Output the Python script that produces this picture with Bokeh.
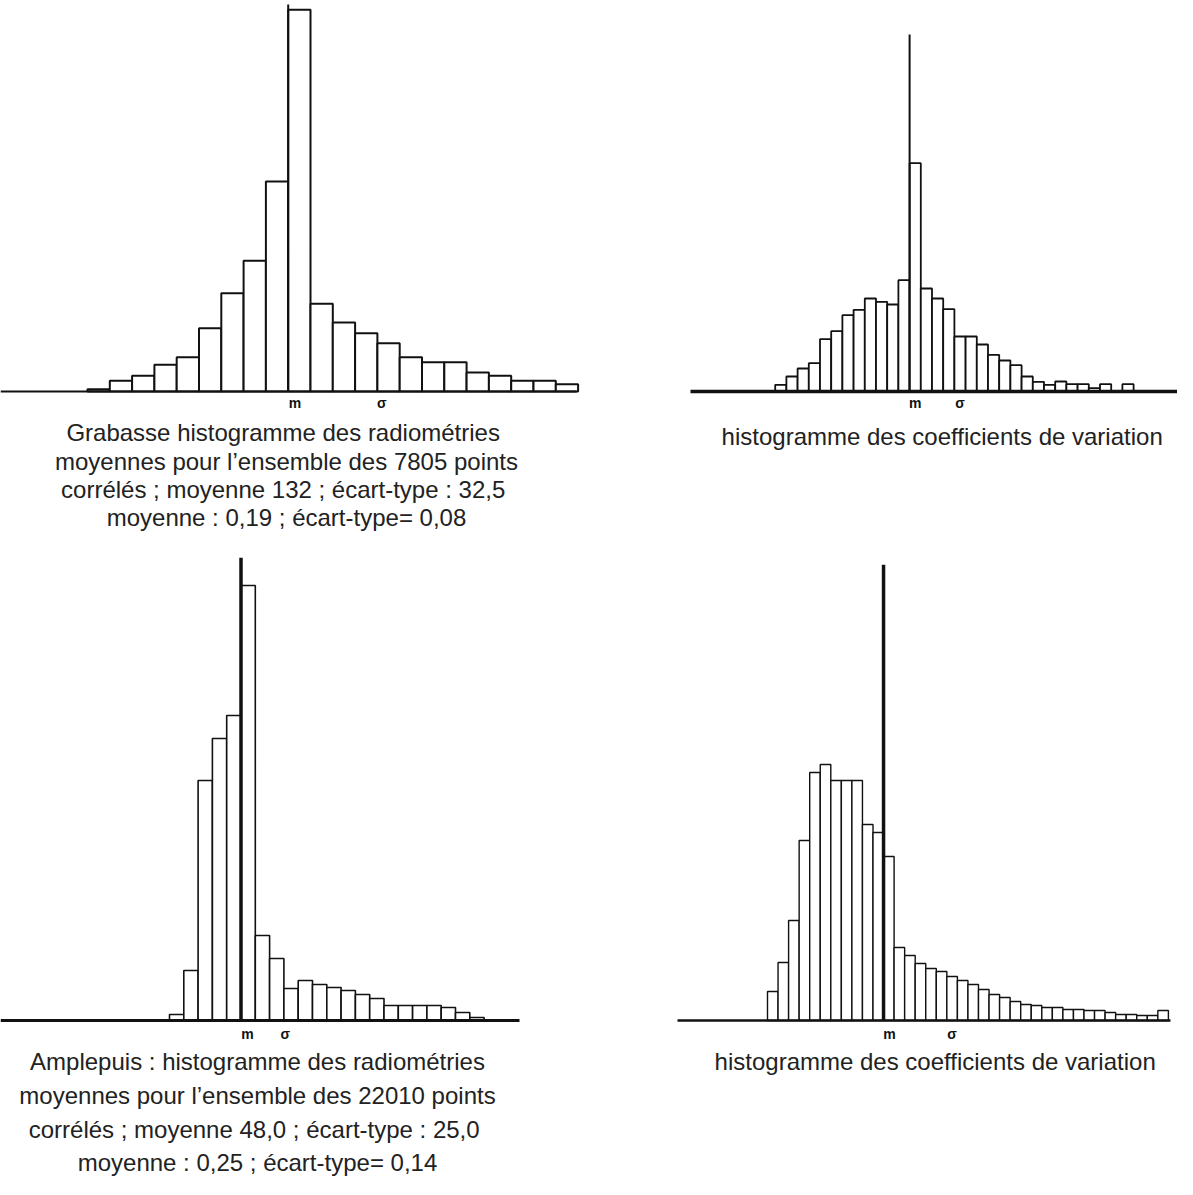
from bokeh.plotting import figure
from bokeh.layouts import column, row
from bokeh.models import Range1d, ColumnDataSource
from bokeh.embed import file_html
from bokeh.resources import INLINE
from bokeh.core.properties import value

# ---------------- data (heights, arbitrary units) ----------------
# Panel A : Grabasse, radiometries
grab_rad_counts = [7, 32, 47, 80, 103, 190, 295, 392, 630, 1145, 263, 207, 175, 145,
                   103, 88, 88, 57, 47, 32, 32, 22]
grab_rad_mean_class = 9.0
grab_rad_marks = [("m", 9.3), ("σ", 13.2)]
grab_rad_caption = ["Grabasse histogramme  des radiométries",
                    "moyennes pour l’ensemble des 7805 points",
                    " corrélés ; moyenne 132 ; écart-type : 32,5",
                    "moyenne : 0,19 ; écart-type= 0,08"]

# Panel B : Grabasse, coefficients of variation
grab_cv_counts = [20, 45, 69, 85, 157, 181, 229, 245, 279, 269, 261, 334, 685, 309, 279,
                  247, 165, 165, 141, 110, 93, 79, 45, 29, 20, 30, 22, 22, 10, 22, 0, 22]
grab_cv_mean_class = 12.0
grab_cv_marks = [("m", 12.5), ("σ", 16.5)]
grab_cv_caption = ["histogramme  des coefficients de variation"]

# Panel C : Amplepuis, radiometries
ampl_rad_counts = [6, 50, 240, 282, 305, 435, 85, 62, 32, 40, 36, 33, 30, 26, 22, 15,
                   15, 15, 15, 13, 8, 3]
ampl_rad_mean_class = 5.0
ampl_rad_marks = [("m", 5.45), ("σ", 8.1)]
ampl_rad_caption = ["Amplepuis : histogramme des radiométries",
                    "moyennes pour l’ensemble des 22010 points",
                    " corrélés ; moyenne 48,0 ; écart-type : 25,0",
                    "moyenne : 0,25 ; écart-type= 0,14"]

# Panel D : Amplepuis, coefficients of variation
ampl_cv_counts = [29, 58, 100, 180, 248, 256, 240, 240, 240, 196, 188, 164, 73, 65, 57,
                  52, 49, 44, 40, 36, 31, 26, 23, 19, 16, 15, 13, 13, 11, 11, 10, 10, 8,
                  6, 6, 5, 5, 10]
ampl_cv_mean_class = 11.0
ampl_cv_marks = [("m", 11.55), ("σ", 17.5)]
ampl_cv_caption = ["histogramme  des coefficients de variation"]

FONT = "Liberation Sans"


def panel(counts, mean_cls, marks, caption, geo):
    fx, fy, fw, fh = geo["fig"]
    x0, bw, base, k = geo["x0"], geo["bw"], geo["base"], geo["k"]

    def cx(px):  # page x -> class units
        return (px - x0) / bw

    def cy(py):  # page y -> count units
        return (base - py) * k

    p = figure(width=fw, height=fh, toolbar_location=None, output_backend="svg",
               x_range=Range1d(cx(fx), cx(fx + fw)),
               y_range=Range1d(cy(fy + fh), cy(fy)),
               min_border=0, min_border_left=0, min_border_right=0,
               min_border_top=0, min_border_bottom=0)
    p.axis.visible = False
    p.grid.visible = False
    p.outline_line_color = None
    p.background_fill_color = "white"
    p.border_fill_color = "white"

    n = len(counts)
    src = ColumnDataSource(dict(left=list(range(n)), right=[i + 1 for i in range(n)],
                                top=counts))
    p.quad(left="left", right="right", bottom=0, top="top", source=src,
           fill_color="white", line_color="#111111", line_width=geo["bar_lw"])

    # baseline
    p.segment(x0=cx(geo["axis_from"]), y0=0, x1=cx(geo["axis_to"]), y1=0,
              line_color="#111111", line_width=geo["axis_lw"])
    # mean line
    p.segment(x0=mean_cls, y0=0, x1=mean_cls, y1=max(counts) * geo["line_ratio"],
              line_color="#111111", line_width=geo["mean_lw"])

    # marks under the axis
    p.text(x=[m[1] for m in marks], y=[cy(base + geo["mark_dy"])] * len(marks),
           text=[m[0] for m in marks], text_font=value(FONT), text_font_style="bold",
           text_font_size="14px", text_align="center", text_baseline="middle",
           text_color="#111111")

    # caption
    ys = geo["cap_y"]
    p.text(x=[cx(geo["cap_x"])] * len(caption), y=[cy(v) for v in ys[:len(caption)]],
           text=caption, text_font=value(FONT), text_font_size=geo["cap_fs"],
           text_align="center", text_baseline="middle", text_color="#222222")
    return p


geo_a = dict(fig=(8, 8, 592, 552), x0=95, bw=22.3, base=399, k=3, bar_lw=2.0,
             axis_from=8, axis_to=584, axis_lw=2.0, mean_lw=2.0, line_ratio=1.014,
             mark_dy=11, cap_x=294, cap_y=[440, 469, 497, 525], cap_fs="24px")
geo_b = dict(fig=(600, 8, 585, 552), x0=782.7, bw=11.2, base=399, k=3, bar_lw=1.8,
             axis_from=698, axis_to=1185, axis_lw=3.5, mean_lw=2.0, line_ratio=1.563,
             mark_dy=11, cap_x=953, cap_y=[444], cap_fs="24px")
geo_c = dict(fig=(8, 560, 592, 627), x0=177, bw=14.3, base=1028, k=1, bar_lw=1.6,
             axis_from=8, axis_to=527, axis_lw=3.0, mean_lw=3.5, line_ratio=1.064,
             mark_dy=13, cap_x=265, cap_y=[1069, 1103, 1137, 1170], cap_fs="24px")
geo_d = dict(fig=(600, 560, 585, 627), x0=775, bw=10.55, base=1028, k=1, bar_lw=1.4,
             axis_from=685, axis_to=1178, axis_lw=2.5, mean_lw=3.5, line_ratio=1.78,
             mark_dy=13, cap_x=946, cap_y=[1069], cap_fs="24px")

pa = panel(grab_rad_counts, grab_rad_mean_class, grab_rad_marks, grab_rad_caption, geo_a)
pb = panel(grab_cv_counts, grab_cv_mean_class, grab_cv_marks, grab_cv_caption, geo_b)
pc = panel(ampl_rad_counts, ampl_rad_mean_class, ampl_rad_marks, ampl_rad_caption, geo_c)
pd = panel(ampl_cv_counts, ampl_cv_mean_class, ampl_cv_marks, ampl_cv_caption, geo_d)

layout = column(row(pa, pb, spacing=0), row(pc, pd, spacing=0), spacing=0)
open("out.html", "w").write(file_html(layout, INLINE))
